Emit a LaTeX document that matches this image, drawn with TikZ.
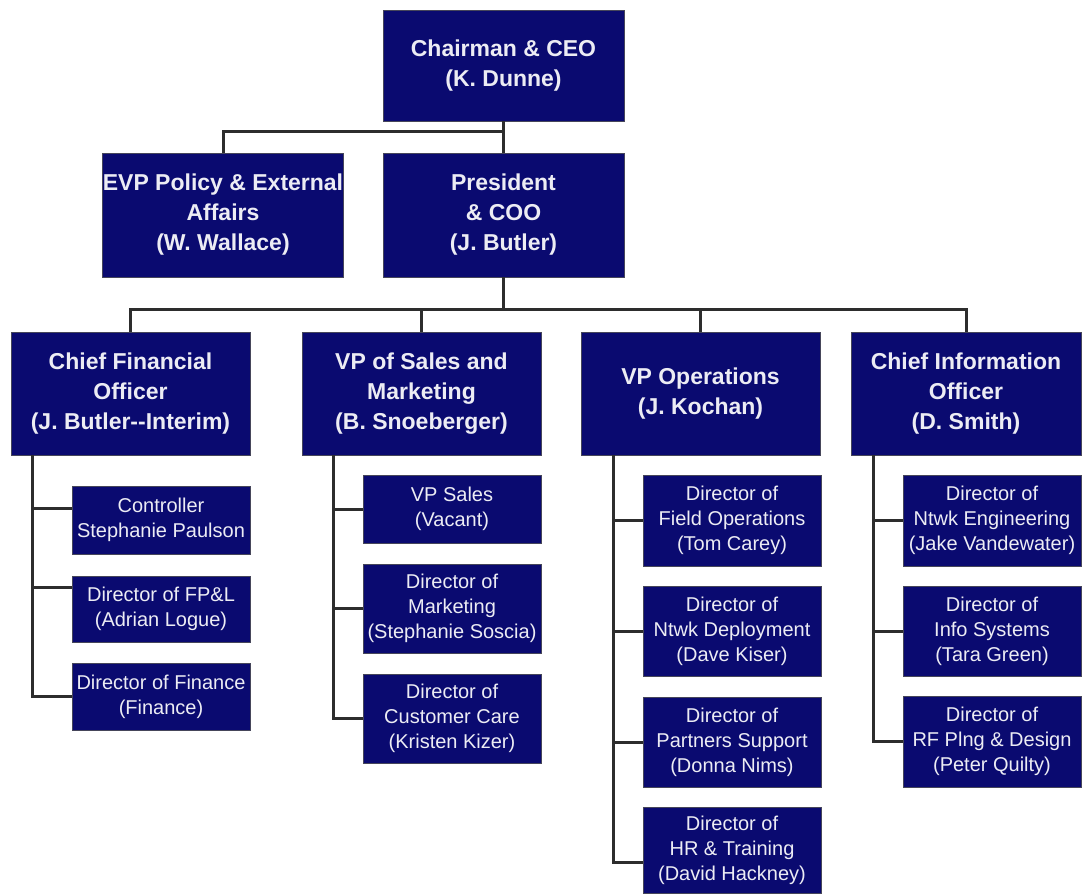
\documentclass[tikz,border=0pt]{standalone}
\usepackage{fontspec}
\setmainfont{Liberation Sans}
\usepackage{tikz}
\definecolor{boxnavy}{RGB}{10,10,112}
\definecolor{rimgray}{RGB}{70,70,90}
\definecolor{inkwhite}{RGB}{236,236,244}
\definecolor{wiregray}{RGB}{45,45,45}
\tikzstyle{post}=[draw=rimgray,fill=boxnavy,text=inkwhite,align=center,inner sep=0pt,font=\bfseries\fontsize{11.5}{15}\selectfont]
\tikzstyle{desk}=[draw=rimgray,fill=boxnavy,text=inkwhite,align=center,inner sep=0pt,minimum width=89pt,font=\fontsize{10}{12.5}\selectfont]
\tikzstyle{link}=[draw=wiregray,line width=1.5pt]

\begin{document}
\begin{tikzpicture}[x=0.5pt,y=-0.5pt]
  \useasboundingbox (0,0) rectangle (1082,894);
  % top of the chart
  \node[post,minimum width=120.5pt,minimum height=55.5pt] (ceo) at (503.5,65.5) {Chairman \& CEO\\(K. Dunne)};
  \node[post,minimum width=120pt,minimum height=62pt] (evp) at (223,215) {EVP Policy \& External\\Affairs\\(W. Wallace)};
  \node[post,minimum width=120.5pt,minimum height=62pt] (pres) at (503.5,215) {President\\\& COO\\(J. Butler)};
  \node[post,minimum width=119.5pt,minimum height=61.5pt] (cfo) at (130.5,393.5) {Chief Financial\\Officer\\(J. Butler-{}-Interim)};
  \node[post,minimum width=119.5pt,minimum height=61.5pt] (vps) at (421.5,393.5) {VP of Sales and\\Marketing\\(B. Snoeberger)};
  \node[post,minimum width=119.5pt,minimum height=61.5pt] (vpo) at (700.5,393.5) {VP Operations\\(J. Kochan)};
  \node[post,minimum width=115pt,minimum height=61.5pt] (cio) at (966,393.5) {Chief Information\\Officer\\(D. Smith)};

  % second level
  \foreach \place/\name/\tall/\txt in {{(161,520)/ctrl/34/{Controller\\Stephanie Paulson}},
                                    {(161,609)/fpl/33/{Director of FP\&L\\(Adrian Logue)}},
                                    {(161,696.5)/fin/33.5/{Director of Finance\\(Finance)}},
                                    {(452,509)/sales/34/{VP Sales\\(Vacant)}},
                                    {(452,608.5)/mkt/44.5/{Director of\\Marketing\\(Stephanie Soscia)}},
                                    {(452,718.5)/care/44.5/{Director of\\Customer Care\\(Kristen Kizer)}},
                                    {(732,520.5)/field/45.5/{Director of\\Field Operations\\(Tom Carey)}},
                                    {(732,631)/deploy/45/{Director of\\Ntwk Deployment\\(Dave Kiser)}},
                                    {(732,742)/partner/45/{Director of\\Partners Support\\(Donna Nims)}},
                                    {(732,850)/hr/43/{Director of\\HR \& Training\\(David Hackney)}},
                                    {(992,520.5)/eng/45.5/{Director of\\Ntwk Engineering\\(Jake Vandewater)}},
                                    {(992,631)/info/45/{Director of\\Info Systems\\(Tara Green)}},
                                    {(992,741.5)/rf/45.5/{Director of\\RF Plng \& Design\\(Peter Quilty)}}}
    \node[desk,minimum height=\tall pt] (\name) at \place {\txt};

  % lines
  \draw[link] (ceo.south) -- ++(0,10) -| (evp.north);
  \draw[link] (ceo.south) -- (pres.north);
  \draw[link] (pres.south) -- ++(0,32) coordinate (bus);
  \foreach \dest in {cfo,vps,vpo,cio}
      \draw[link] (bus) -| (\dest.north);

  \coordinate (cfotrunk) at (32,455);
  \coordinate (vpstrunk) at (333,455);
  \coordinate (vpotrunk) at (613,455);
  \coordinate (ciotrunk) at (873,455);
  \foreach \source/\dest/\lift in {cfotrunk/ctrl/6pt,cfotrunk/fpl/11pt,cfotrunk/fin/0pt,
                                   vpstrunk/sales/0pt,vpstrunk/mkt/0pt,vpstrunk/care/0pt,
                                   vpotrunk/field/0pt,vpotrunk/deploy/0pt,vpotrunk/partner/0pt,vpotrunk/hr/-6pt,
                                   ciotrunk/eng/0pt,ciotrunk/info/0pt,ciotrunk/rf/0pt}
      \draw[link] (\source) |- ([yshift=\lift]\dest.west);
\end{tikzpicture}
\end{document}
